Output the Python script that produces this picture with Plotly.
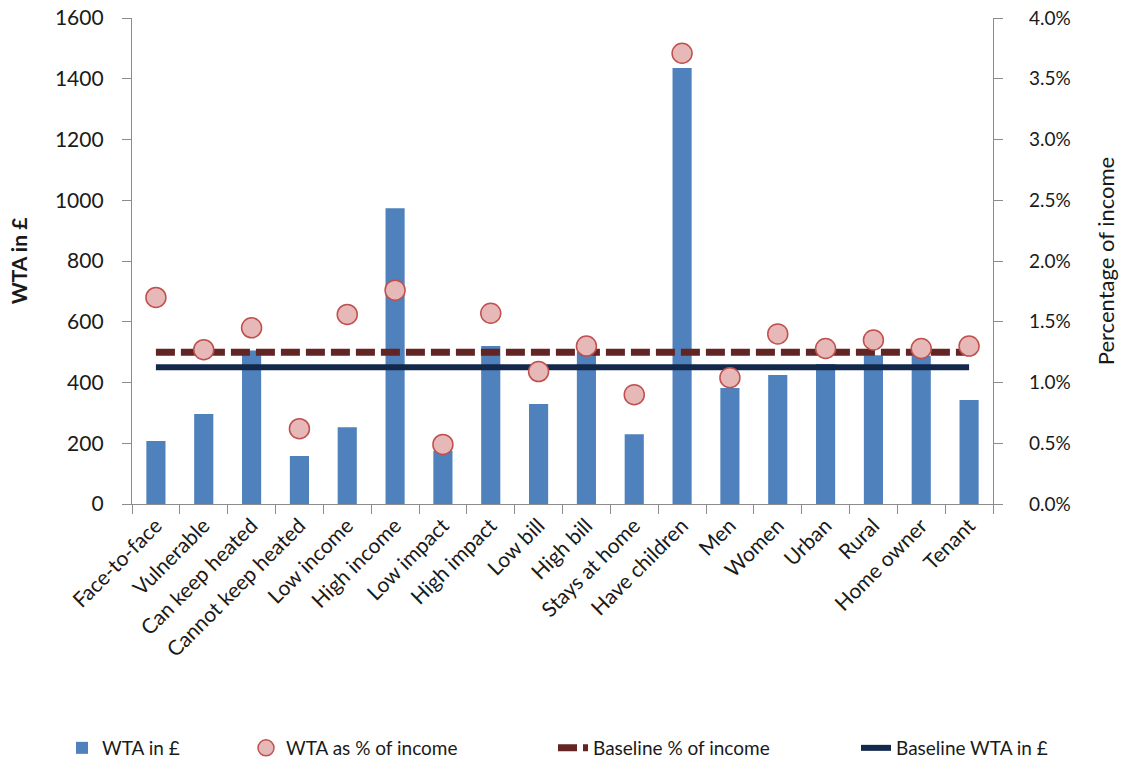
import plotly.graph_objects as go

categories = ["Face-to-face", "Vulnerable", "Can keep heated", "Cannot keep heated",
              "Low income", "High income", "Low impact", "High impact", "Low bill",
              "High bill", "Stays at home", "Have children", "Men", "Women", "Urban",
              "Rural", "Home owner", "Tenant"]
wta_gbp = [207, 296, 505, 158, 253, 974, 175, 520, 329, 502, 230, 1435, 382, 425, 461, 490, 488, 342]
wta_pct = [0.0170, 0.0127, 0.0145, 0.0062, 0.0156, 0.0176, 0.0049, 0.0157, 0.0109, 0.0130,
           0.0090, 0.0371, 0.0104, 0.0140, 0.0128, 0.0135, 0.0128, 0.0130]
baseline_pct = 0.0125
baseline_wta = 450

FONT = "Lato"
TXT = "#1a1a1a"
fig = go.Figure()
fig.add_trace(go.Bar(x=categories, y=wta_gbp, name="WTA in £",
                     marker=dict(color="#4F81BD", line=dict(width=0)), width=0.4,
                     yaxis="y", legend="legend"))
fig.add_trace(go.Scatter(x=categories, y=[baseline_wta] * len(categories), name="Baseline WTA in £",
                         mode="lines", line=dict(color="#13294B", width=6), yaxis="y",
                         legend="legend4"))
fig.add_trace(go.Scatter(x=categories, y=[baseline_pct] * len(categories), name="Baseline % of income",
                         mode="lines", line=dict(color="#632523", width=7, dash="19px,6px"),
                         yaxis="y2", legend="legend3"))
fig.add_trace(go.Scatter(x=categories, y=wta_pct, name="WTA as % of income", mode="markers",
                         marker=dict(size=20, color="#E6B9B8", line=dict(color="#C0504D", width=1.5)),
                         yaxis="y2", legend="legend2"))

axis_common = dict(showline=True, linecolor="#8C8C8C", linewidth=1.3, ticks="outside",
                   tickcolor="#8C8C8C", ticklen=9, showgrid=False, zeroline=False,
                   automargin=False)

leg_common = dict(orientation="h", yref="container", y=(766 - 748) / 766, yanchor="middle",
                  xanchor="left", font=dict(family=FONT, size=19, color=TXT), itemwidth=30,
                  bgcolor="rgba(0,0,0,0)")

fig.update_layout(
    width=1123, height=766, plot_bgcolor="white", paper_bgcolor="white",
    margin=dict(l=132, r=130, t=18, b=262, autoexpand=False),
    font=dict(family=FONT, color=TXT),
    xaxis=dict(**axis_common, tickangle=-45, tickson="boundaries", type="category",
               range=[-0.5, len(categories) - 0.5],
               tickfont=dict(family=FONT, size=21, color=TXT)),
    yaxis=dict(**axis_common, range=[0, 1600], dtick=200, ticklabelstandoff=14,
               tickfont=dict(family=FONT, size=21, color=TXT),
               title=dict(text="<b>WTA in £</b>", font=dict(family=FONT, size=21, color=TXT),
                          standoff=21)),
    yaxis2=dict(**axis_common, overlaying="y", side="right", range=[0, 0.04], dtick=0.005,
                tickformat=".1%", ticklabelstandoff=22,
                tickfont=dict(family=FONT, size=19, color=TXT),
                title=dict(text="Percentage of income", font=dict(family=FONT, size=22, color=TXT),
                           standoff=28)),
    showlegend=True,
    legend=dict(**leg_common, x=(62 - 132) / 861),
    legend2=dict(**leg_common, x=(246 - 132) / 861),
    legend3=dict(**leg_common, x=(553 - 132) / 861),
    legend4=dict(**leg_common, x=(856 - 132) / 861),
    bargap=0.6,
)
fig.write_html("out.html")
